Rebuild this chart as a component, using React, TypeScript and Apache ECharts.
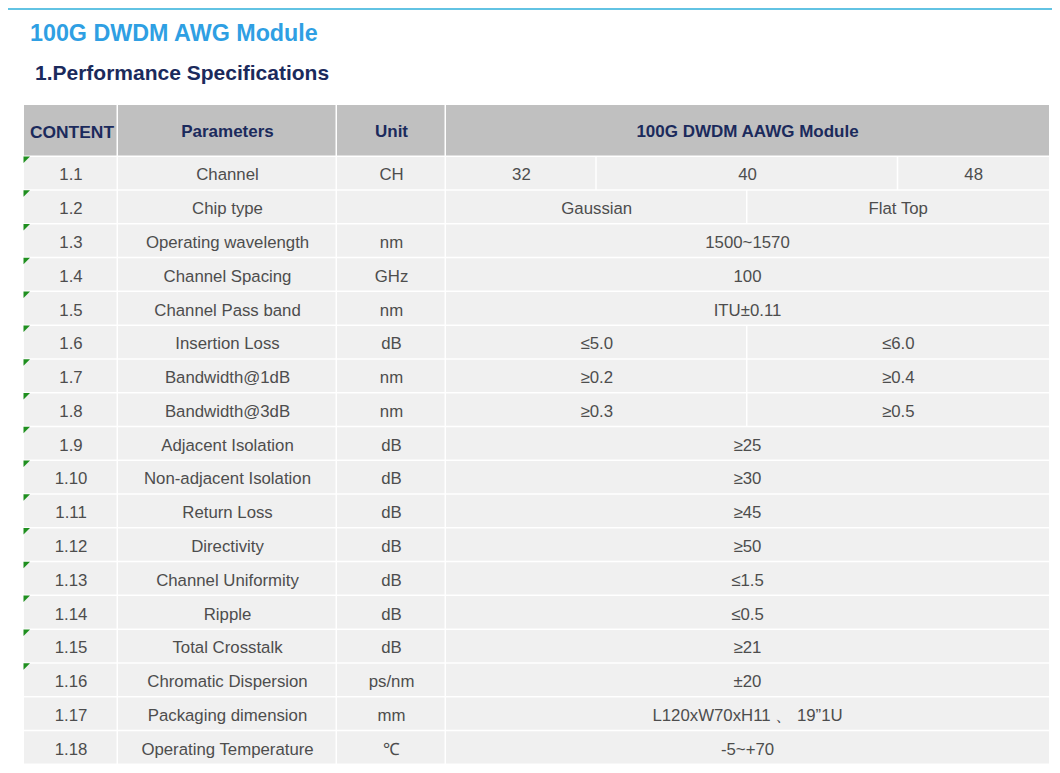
import React, { useEffect, useRef } from "react";
import * as echarts from "echarts";

const title = "100G DWDM AWG Module";
const subtitle = "1.Performance Specifications";
const headers = ["CONTENT", "Parameters", "Unit", "100G DWDM AAWG Module"];
const numbers = ["1.1","1.2","1.3","1.4","1.5","1.6","1.7","1.8","1.9","1.10","1.11","1.12","1.13","1.14","1.15","1.16","1.17","1.18"];
const params = ["Channel","Chip type","Operating wavelength","Channel Spacing","Channel Pass band","Insertion Loss","Bandwidth@1dB","Bandwidth@3dB","Adjacent Isolation","Non-adjacent Isolation","Return Loss","Directivity","Channel Uniformity","Ripple","Total Crosstalk","Chromatic Dispersion","Packaging dimension","Operating Temperature"];
const units = ["CH","","nm","GHz","nm","dB","nm","nm","dB","dB","dB","dB","dB","dB","dB","ps/nm","mm","℃"];
const values: string[][] = [
  ["32","40","48"],
  ["Gaussian","Flat Top"],
  ["1500~1570"],
  ["100"],
  ["ITU±0.11"],
  ["≤5.0","≤6.0"],
  ["≥0.2","≥0.4"],
  ["≥0.3","≥0.5"],
  ["≥25"],
  ["≥30"],
  ["≥45"],
  ["≥50"],
  ["≤1.5"],
  ["≤0.5"],
  ["≥21"],
  ["±20"],
  ["L120xW70xH11 、 19”1U"],
  ["-5~+70"],
];
const markedRows = 16;

export default function App() {
  const ref = useRef<HTMLDivElement>(null);
  useEffect(() => {
    const chart = echarts.init(ref.current!, null, { renderer: "svg" });
    const font = "'Liberation Sans', Arial, sans-serif";
    const colX = [24, 118, 337, 446, 1049];
    const headTop = 105, headBot = 157;
    const rowH = (765 - headBot) / numbers.length;
    const els: any[] = [];
    els.push({ type: "line", shape: { x1: 8, y1: 9, x2: 1052, y2: 9 }, style: { stroke: "#62c3e3", lineWidth: 2 } });
    els.push({ type: "text", x: 30, y: 33, style: { text: title, font: `bold 23.3px ${font}`, fill: "#2f9fe3", textVerticalAlign: "middle" } });
    els.push({ type: "text", x: 35, y: 72.5, style: { text: subtitle, font: `bold 21px ${font}`, fill: "#1b2a5c", textVerticalAlign: "middle" } });
    for (let c = 0; c < 4; c++) {
      els.push({ type: "rect", shape: { x: colX[c], y: headTop, width: colX[c + 1] - colX[c] - (c < 3 ? 1.5 : 0), height: headBot - headTop - 1.5 }, style: { fill: "#c0c0c0" } });
      els.push({ type: "text", x: (colX[c] + colX[c + 1]) / 2 + (c === 0 ? 1 : 0), y: (headTop + headBot) / 2 + 0.5, style: { text: headers[c], font: `bold ${c === 0 ? 17.4 : 17}px ${font}`, fill: "#1b2a5c", align: "center", verticalAlign: "middle" } });
    }
    const txtStyle = (t: string) => ({ text: t, font: `16.8px ${font}`, fill: "#4d4d4d", align: "center", verticalAlign: "middle" });
    for (let r = 0; r < numbers.length; r++) {
      const y0 = headBot + r * rowH;
      const cy = y0 + rowH / 2 + 1;
      const cells: [number, number, string][] = [
        [colX[0], colX[1], numbers[r]],
        [colX[1], colX[2], params[r]],
        [colX[2], colX[3], units[r]],
      ];
      const v = values[r];
      const w = colX[4] - colX[3];
      if (v.length === 1) cells.push([colX[3], colX[4], v[0]]);
      else if (v.length === 2) {
        cells.push([colX[3], colX[3] + w / 2, v[0]]);
        cells.push([colX[3] + w / 2, colX[4], v[1]]);
      } else {
        cells.push([colX[3], colX[3] + w / 4, v[0]]);
        cells.push([colX[3] + w / 4, colX[3] + (3 * w) / 4, v[1]]);
        cells.push([colX[3] + (3 * w) / 4, colX[4], v[2]]);
      }
      cells.forEach(([a, b, t], i) => {
        const last = i === cells.length - 1;
        els.push({ type: "rect", shape: { x: a, y: y0, width: b - a - (last ? 0 : 1.5), height: rowH - 1.5 }, style: { fill: "#f0f0f0" } });
        els.push({ type: "text", x: (a + b) / 2, y: cy, style: txtStyle(t) });
      });
      if (r < markedRows) {
        els.push({ type: "polygon", shape: { points: [[23.5, y0 - 0.5], [30, y0 - 0.5], [23.5, y0 + 6]] }, style: { fill: "#1f8f1f" } });
      }
    }
    chart.setOption({ animation: false, graphic: { elements: els } });
    return () => chart.dispose();
  }, []);
  return <div ref={ref} style={{ position: "absolute", left: 0, top: 0, width: 1060, height: 773, background: "#fff" }} />;
}
